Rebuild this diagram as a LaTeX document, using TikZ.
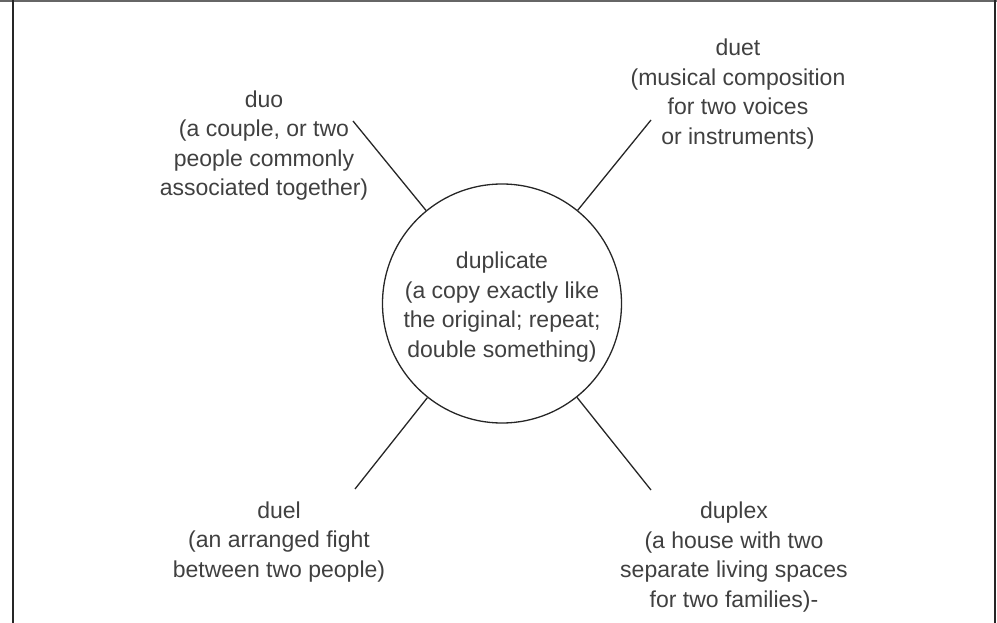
\documentclass[tikz,border=0pt]{standalone}
\usepackage{fontspec}
\setmainfont{Liberation Sans}
\begin{document}
\begin{tikzpicture}[x=1pt,y=-1pt,
  lbl/.style={align=center, font=\fontsize{23}{29.5}\selectfont, text=black!75, inner sep=0pt},
  spoke/.style={line width=1.3pt, draw=black!85},
  frameline/.style={line width=2pt}]
\useasboundingbox (0,0) rectangle (997,623);
\draw[frameline, draw=black!60] (0,1) -- (997,1);
\draw[frameline, draw=black!85] (12.5,0) -- (12.5,623);
\draw[frameline, draw=black!85] (995,0) -- (995,623);
\node[circle, draw=black!85, line width=1.3pt, minimum size=239pt, inner sep=0pt] (c) at (502,303.5) {};
\node[lbl] (ct) at (502,307) {duplicate\\(a copy exactly like\\the original; repeat;\\double something)};
\node[lbl] (duo) at (264,145.5) {duo\\(a couple, or two\\people commonly\\associated together)};
\node[lbl] (duet) at (738,94) {duet\\(musical composition\\for two voices\\or instruments)};
\node[lbl] (duel) at (279,542) {duel\\(an arranged fight\\between two people)};
\node[lbl] (duplex) at (734,557) {duplex\\(a house with two\\separate living spaces\\for two families)-};
\coordinate (ul) at (353,121);
\coordinate (ur) at (651,120);
\coordinate (ll) at (355,489);
\coordinate (lr) at (651,490);
\draw[spoke] (c) -- (ul);
\draw[spoke] (c) -- (ur);
\draw[spoke] (c) -- (ll);
\draw[spoke] (c) -- (lr);
\end{tikzpicture}
\end{document}
